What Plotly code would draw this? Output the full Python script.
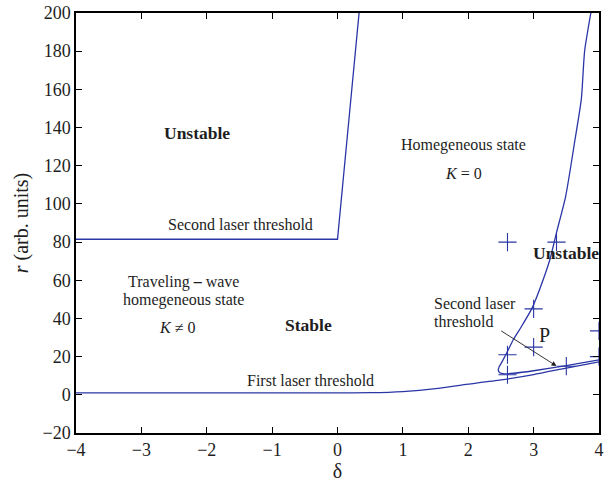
import plotly.graph_objects as go

# Second laser threshold (left branch): flat segment then steep rise
second_x = [-4.0, 0.0, 0.33]
second_y = [81.5, 81.5, 200.0]

# First laser threshold
first_x = [-4.0, -2.0, 0.0, 0.5, 1.0, 1.5, 1.87, 2.0, 2.5, 3.0, 3.5, 4.0]
first_y = [1.0, 1.0, 1.0, 1.1, 1.7, 3.2, 5.0, 5.6, 7.8, 10.6, 14.0, 17.3]

# Second laser threshold (right branch, folded curve)
loop_x = [3.875, 3.78, 3.73, 3.63, 3.49, 3.35, 3.25, 3.1, 2.97, 2.8, 2.69, 2.59,
          2.52, 2.47, 2.46, 2.48, 2.55, 2.7, 3.0, 3.5, 4.0]
loop_y = [200.0, 180.0, 155.0, 133.0, 104.0, 85.0, 71.0, 56.0, 45.0, 35.0, 29.0, 22.0,
          17.5, 14.5, 12.8, 11.6, 11.0, 11.3, 12.6, 15.3, 18.3]

# Computed points
pts_x = [2.6, 3.35, 3.0, 3.0, 2.6, 2.6, 3.5, 4.0, 4.0]
pts_y = [80.0, 80.0, 45.0, 25.0, 21.0, 10.5, 15.0, 33.5, 20.0]

BLUE = "#2b36a6"
FONT = "Liberation Serif"
TXT = "#1e1e1e"

fig = go.Figure()
fig.add_trace(go.Scatter(x=second_x, y=second_y, mode="lines",
                         line=dict(color=BLUE, width=1.3), showlegend=False))
fig.add_trace(go.Scatter(x=first_x, y=first_y, mode="lines",
                         line=dict(color=BLUE, width=1.3, shape="spline", smoothing=0.6),
                         showlegend=False))
fig.add_trace(go.Scatter(x=loop_x, y=loop_y, mode="lines",
                         line=dict(color=BLUE, width=1.3, shape="spline", smoothing=0.6),
                         showlegend=False))
fig.add_trace(go.Scatter(x=pts_x, y=pts_y, mode="markers",
                         marker=dict(symbol="cross-thin", size=13,
                                     line=dict(color=BLUE, width=1.1)),
                         showlegend=False))

labels = [
    ("<b>Unstable</b>", -2.15, 137.0, 17.5, "center"),
    ("Homegeneous state", 1.92, 131.0, 16, "center"),
    ("<i>K</i> = 0", 1.92, 116.0, 16, "center"),
    ("Second laser threshold", -1.49, 89.0, 16, "center"),
    ("<b>Unstable</b>", 3.49, 74.5, 17.5, "center"),
    ("Traveling <b>–</b> wave", -2.36, 59.3, 16, "center"),
    ("homegeneous state", -2.35, 49.7, 16, "center"),
    ("<i>K</i> ≠ 0", -2.46, 35.2, 16, "center"),
    ("<b>Stable</b>", -0.45, 36.6, 17.5, "center"),
    ("Second laser", 1.44, 47.9, 16, "left"),
    ("threshold", 1.44, 38.3, 16, "left"),
    ("P", 3.17, 31.3, 20, "center"),
    ("First laser threshold", -0.41, 7.6, 16, "center"),
]
for text, x, y, size, anchor in labels:
    fig.add_annotation(x=x, y=y, text=text, showarrow=False, xanchor=anchor,
                       yanchor="middle", font=dict(family=FONT, size=size, color=TXT))

# Arrow pointing at the lower fold
fig.add_annotation(x=3.35, y=15.1, ax=2.48, ay=34.0, xref="x", yref="y",
                   axref="x", ayref="y", text="", showarrow=True,
                   arrowhead=2, arrowsize=1.1, arrowwidth=0.9, arrowcolor=TXT)

axis_common = dict(showline=True, linecolor="black", linewidth=1.5, mirror="ticks",
                   ticks="inside", ticklen=6, tickwidth=1, tickcolor="black",
                   showgrid=False, zeroline=False, automargin=False,
                   tickfont=dict(family=FONT, size=18, color=TXT))

fig.update_xaxes(range=[-4, 4], dtick=1, tickformat="d",
                 title=dict(text="δ", font=dict(family=FONT, size=20, color=TXT), standoff=5),
                 **axis_common)
fig.update_yaxes(range=[-20, 200], dtick=20,
                 title=dict(text="<i>r</i> (arb. units)", font=dict(family=FONT, size=20, color=TXT),
                            standoff=8), **axis_common)

fig.update_layout(width=615, height=486, margin=dict(l=76, r=16, t=13, b=53),
                  plot_bgcolor="white", paper_bgcolor="white")

fig.write_html("out.html")
